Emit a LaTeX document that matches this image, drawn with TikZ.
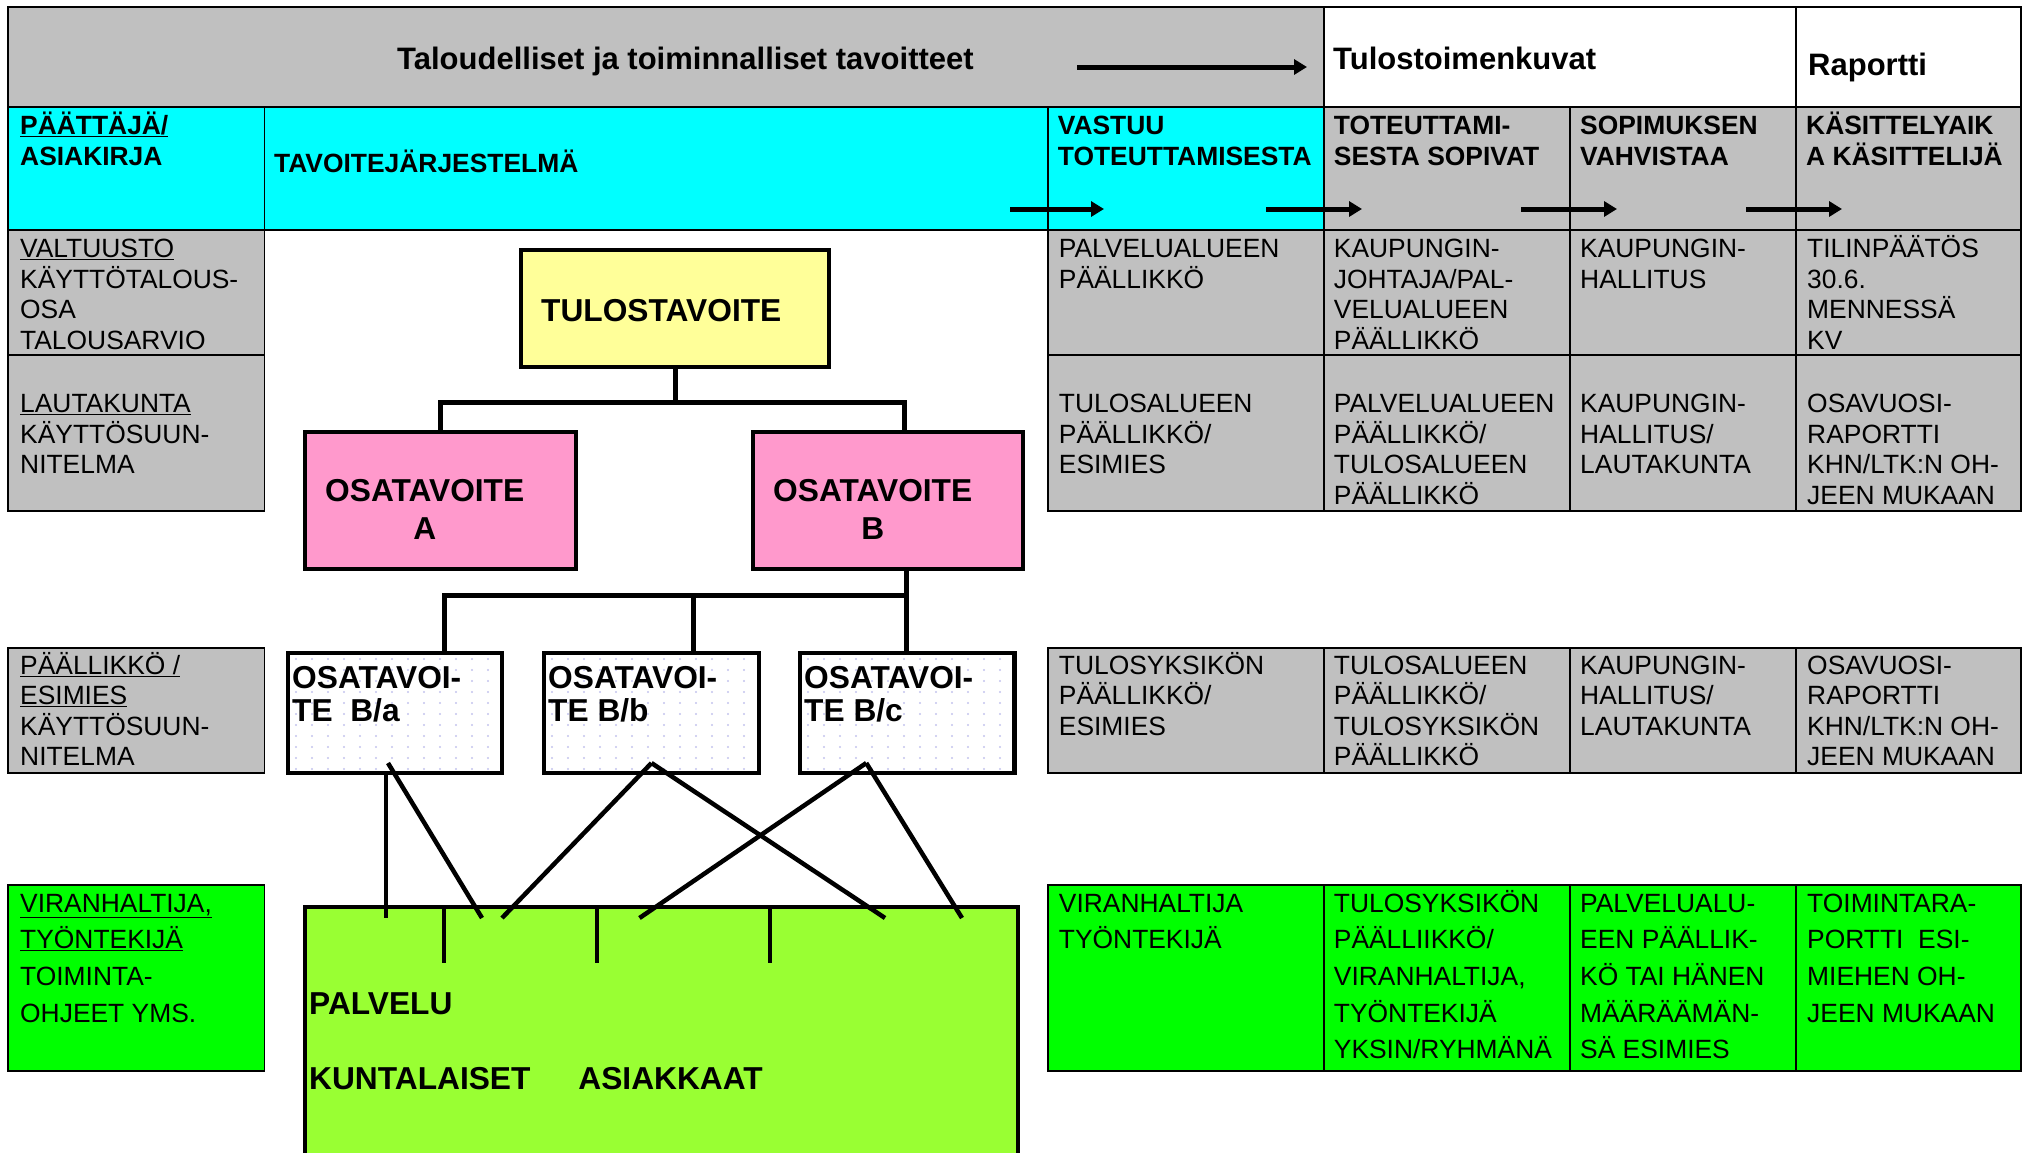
\documentclass[tikz,border=0pt]{standalone}
\usepackage{fontspec}
\setmainfont{Liberation Sans}
\usetikzlibrary{arrows.meta, positioning, calc}

\definecolor{cellgray}{HTML}{C0C0C0}
\definecolor{headcyan}{HTML}{00FFFF}
\definecolor{rowgreen}{HTML}{00FF00}
\definecolor{goalyellow}{HTML}{FFFF99}
\definecolor{goalpink}{HTML}{FF99CC}
\definecolor{servlime}{HTML}{99FF33}
\definecolor{dotblue}{HTML}{C4C4EE}

% first-line strut, so that every text sits at the same height
\newcommand{\cstrut}{\rule{0pt}{25pt}}

\tikzset{
    cell/.style 2 args={draw, line width=1.8pt, anchor=north west, inner sep=0,
        outer sep=0, minimum width=#1, minimum height=#2},
    goalbox/.style 2 args={draw, line width=4.5pt, anchor=north west, inner sep=0,
        outer sep=0, minimum width=#1, minimum height=#2},
    celltext/.style={anchor=north west, inner sep=0, align=left,
        font=\fontsize{26.4}{30.5}\selectfont},
    headtext/.style={celltext, font=\bfseries\fontsize{26.4}{30.5}\selectfont},
    greentext/.style={celltext, font=\fontsize{26.4}{36.6}\selectfont},
    goaltext/.style={celltext, font=\bfseries\fontsize{31.7}{38}\selectfont},
    subtext/.style={celltext, font=\bfseries\fontsize{31.7}{33}\selectfont},
    titletext/.style={anchor=base west, inner sep=0,
        font=\bfseries\fontsize{31}{36}\selectfont},
    flowarrow/.style={line width=5pt, -{Triangle[length=13pt,width=15pt]}},
    conn/.style={line width=5pt},
    link/.style={line width=4.5pt},
    dotfill/.style={path picture={
        \foreach \i in {0,...,13}
            \foreach \j in {0,...,10}
                \fill[dotblue] ($(path picture bounding box.north west)+(\i*16pt+8pt,-\j*11pt-6pt)$) circle (1.2pt);
    }}
}

\begin{document}
\begin{tikzpicture}[x=1pt, y=-1pt]

\path[use as bounding box, fill=white] (0,0) rectangle (2024,1152);

% header row
\node[cell={1315.7}{100}, fill=cellgray] (header) at (8,7) {};
\node[cell={472.3}{100}] (tulos_kuvat) at (1323.7,7) {};
\node[cell={225}{100}] (raportti) at (1796,7) {};
\node[titletext] (header_txt) at (397,69) {Taloudelliset ja toiminnalliset tavoitteet};
\node[titletext] (tulos_kuvat_txt) at (1333,69) {Tulostoimenkuvat};
\node[titletext] (raportti_txt) at (1808,75) {Raportti};

% cyan row
\node[cell={256.5}{123}, fill=headcyan] (paattaja) at (8,107) {};
\node[cell={783.2}{123}, fill=headcyan] (tavoite_jarj) at (264.5,107) {};
\node[cell={276}{123}, fill=headcyan] (vastuu) at (1047.7,107) {};
\node[cell={246.3}{123}, fill=cellgray] (sopivat) at (1323.7,107) {};
\node[cell={226}{123}, fill=cellgray] (vahvistaa) at (1570,107) {};
\node[cell={225}{123}, fill=cellgray] (kasittely) at (1796,107) {};

\node[headtext, below right=2.5pt and 12pt of paattaja.north west] (paattaja_txt) {\cstrut\underline{PÄÄTTÄJÄ/}\\ASIAKIRJA};
\node[headtext, below right=40pt and 9.5pt of tavoite_jarj.north west] (tavoite_jarj_txt) {\cstrut TAVOITEJÄRJESTELMÄ};
\node[headtext, below right=2.5pt and 10pt of vastuu.north west] (vastuu_txt) {\cstrut VASTUU\\TOTEUTTAMISESTA};
\node[headtext, below right=2.5pt and 10pt of sopivat.north west] (sopivat_txt) {\cstrut TOTEUTTAMI-\\SESTA SOPIVAT};
\node[headtext, below right=2.5pt and 10pt of vahvistaa.north west] (vahvistaa_txt) {\cstrut SOPIMUKSEN\\VAHVISTAA};
\node[headtext, below right=2.5pt and 10pt of kasittely.north west] (kasittely_txt) {\cstrut KÄSITTELYAIK\\A KÄSITTELIJÄ};

% row 1
\node[cell={256.5}{125}, fill=cellgray] (valtuusto) at (8,230) {};
\node[cell={276}{125}, fill=cellgray] (r1_vastuu) at (1047.7,230) {};
\node[cell={246.3}{125}, fill=cellgray] (r1_sopivat) at (1323.7,230) {};
\node[cell={226}{125}, fill=cellgray] (r1_vahvistaa) at (1570,230) {};
\node[cell={225}{125}, fill=cellgray] (r1_kasittely) at (1796,230) {};

\node[celltext, below right=2.5pt and 12pt of valtuusto.north west] (valtuusto_txt) {\cstrut\underline{VALTUUSTO}\\KÄYTTÖTALOUS-\\OSA\\TALOUSARVIO};
\node[celltext, below right=2.5pt and 11pt of r1_vastuu.north west] (r1_vastuu_txt) {\cstrut PALVELUALUEEN\\PÄÄLLIKKÖ};
\node[celltext, below right=2.5pt and 10pt of r1_sopivat.north west] (r1_sopivat_txt) {\cstrut KAUPUNGIN-\\JOHTAJA/PAL-\\VELUALUEEN\\PÄÄLLIKKÖ};
\node[celltext, below right=2.5pt and 10pt of r1_vahvistaa.north west] (r1_vahvistaa_txt) {\cstrut KAUPUNGIN-\\HALLITUS};
\node[celltext, below right=2.5pt and 11pt of r1_kasittely.north west] (r1_kasittely_txt) {\cstrut TILINPÄÄTÖS\\30.6.\\MENNESSÄ\\KV};

% row 2
\node[cell={256.5}{156}, fill=cellgray] (lautakunta) at (8,355) {};
\node[cell={276}{156}, fill=cellgray] (r2_vastuu) at (1047.7,355) {};
\node[cell={246.3}{156}, fill=cellgray] (r2_sopivat) at (1323.7,355) {};
\node[cell={226}{156}, fill=cellgray] (r2_vahvistaa) at (1570,355) {};
\node[cell={225}{156}, fill=cellgray] (r2_kasittely) at (1796,355) {};

\node[celltext, below right=32.5pt and 12pt of lautakunta.north west] (lautakunta_txt) {\cstrut\underline{LAUTAKUNTA}\\KÄYTTÖSUUN-\\NITELMA};
\node[celltext, below right=32.5pt and 11pt of r2_vastuu.north west] (r2_vastuu_txt) {\cstrut TULOSALUEEN\\PÄÄLLIKKÖ/\\ESIMIES};
\node[celltext, below right=32.5pt and 10pt of r2_sopivat.north west] (r2_sopivat_txt) {\cstrut PALVELUALUEEN\\PÄÄLLIKKÖ/\\TULOSALUEEN\\PÄÄLLIKKÖ};
\node[celltext, below right=32.5pt and 10pt of r2_vahvistaa.north west] (r2_vahvistaa_txt) {\cstrut KAUPUNGIN-\\HALLITUS/\\LAUTAKUNTA};
\node[celltext, below right=32.5pt and 11pt of r2_kasittely.north west] (r2_kasittely_txt) {\cstrut OSAVUOSI-\\RAPORTTI\\KHN/LTK:N OH-\\JEEN MUKAAN};

% row 3
\node[cell={256.5}{125}, fill=cellgray] (paallikko) at (8,648) {};
\node[cell={276}{125}, fill=cellgray] (r3_vastuu) at (1047.7,648) {};
\node[cell={246.3}{125}, fill=cellgray] (r3_sopivat) at (1323.7,648) {};
\node[cell={226}{125}, fill=cellgray] (r3_vahvistaa) at (1570,648) {};
\node[cell={225}{125}, fill=cellgray] (r3_kasittely) at (1796,648) {};

\node[celltext, below right=1pt and 12pt of paallikko.north west] (paallikko_txt) {\cstrut\underline{PÄÄLLIKKÖ /}\\\underline{ESIMIES}\\KÄYTTÖSUUN-\\NITELMA};
\node[celltext, below right=1pt and 11pt of r3_vastuu.north west] (r3_vastuu_txt) {\cstrut TULOSYKSIKÖN\\PÄÄLLIKKÖ/\\ESIMIES};
\node[celltext, below right=1pt and 10pt of r3_sopivat.north west] (r3_sopivat_txt) {\cstrut TULOSALUEEN\\PÄÄLLIKKÖ/\\TULOSYKSIKÖN\\PÄÄLLIKKÖ};
\node[celltext, below right=1pt and 10pt of r3_vahvistaa.north west] (r3_vahvistaa_txt) {\cstrut KAUPUNGIN-\\HALLITUS/\\LAUTAKUNTA};
\node[celltext, below right=1pt and 11pt of r3_kasittely.north west] (r3_kasittely_txt) {\cstrut OSAVUOSI-\\RAPORTTI\\KHN/LTK:N OH-\\JEEN MUKAAN};

% row 4
\node[cell={256.5}{186}, fill=rowgreen] (viranhaltija) at (8,885) {};
\node[cell={276}{186}, fill=rowgreen] (r4_vastuu) at (1047.7,885) {};
\node[cell={246.3}{186}, fill=rowgreen] (r4_sopivat) at (1323.7,885) {};
\node[cell={226}{186}, fill=rowgreen] (r4_vahvistaa) at (1570,885) {};
\node[cell={225}{186}, fill=rowgreen] (r4_kasittely) at (1796,885) {};

\node[greentext, below right=2pt and 12pt of viranhaltija.north west] (viranhaltija_txt) {\cstrut\underline{VIRANHALTIJA,}\\\underline{TYÖNTEKIJÄ}\\TOIMINTA-\\OHJEET YMS.};
\node[greentext, below right=2pt and 11pt of r4_vastuu.north west] (r4_vastuu_txt) {\cstrut VIRANHALTIJA\\TYÖNTEKIJÄ};
\node[greentext, below right=2pt and 10pt of r4_sopivat.north west] (r4_sopivat_txt) {\cstrut TULOSYKSIKÖN\\PÄÄLLIIKKÖ/\\VIRANHALTIJA,\\TYÖNTEKIJÄ\\YKSIN/RYHMÄNÄ};
\node[greentext, below right=2pt and 10pt of r4_vahvistaa.north west] (r4_vahvistaa_txt) {\cstrut PALVELUALU-\\EEN PÄÄLLIK-\\KÖ TAI HÄNEN\\MÄÄRÄÄMÄN-\\SÄ ESIMIES};
\node[greentext, below right=2pt and 11pt of r4_kasittely.north west] (r4_kasittely_txt) {\cstrut TOIMINTARA-\\PORTTI\ \ ESI-\\MIEHEN OH-\\JEEN MUKAAN};

% flow arrows
\coordinate (head_s) at (1077,67);
\coordinate (head_e) at (1307,67);
\draw[flowarrow] (head_s) -- (head_e);
\foreach \xa/\xb [count=\n] in {1010/1104, 1266/1362, 1521/1617, 1746/1842}{
    \coordinate (arrS\n) at (\xa,209);
    \coordinate (arrE\n) at (\xb,209);
    \draw[flowarrow] (arrS\n) -- (arrE\n);
}

% goal tree
\node[goalbox={308}{117}, fill=goalyellow] (tulos) at (521,250) {};
\node[goaltext, below right=46.4pt and 20pt of tulos.north west] (tulos_txt) {\cstrut TULOSTAVOITE};

\node[goalbox={271}{137}, fill=goalpink] (osaA) at (305,432) {};
\node[goaltext, align=center, below right=44.4pt and 20pt of osaA.north west] (osaA_txt) {\cstrut OSATAVOITE\\A};

\node[goalbox={270}{137}, fill=goalpink] (osaB) at (753,432) {};
\node[goaltext, align=center, below right=44.4pt and 20pt of osaB.north west] (osaB_txt) {\cstrut OSATAVOITE\\B};

\node[goalbox={214}{120}, fill=white, dotfill] (subA) at (288,653) {};
\node[subtext, below right=10.4pt and 4pt of subA.north west] (subA_txt) {\cstrut OSATAVOI-\\TE\ \ B/a};

\node[goalbox={215}{120}, fill=white, dotfill] (subB) at (544,653) {};
\node[subtext, below right=10.4pt and 4pt of subB.north west] (subB_txt) {\cstrut OSATAVOI-\\TE B/b};

\node[goalbox={214.5}{120}, fill=white, dotfill] (subC) at (800,653) {};
\node[subtext, below right=10.4pt and 4pt of subC.north west] (subC_txt) {\cstrut OSATAVOI-\\TE B/c};

\node[goalbox={713}{263}, fill=servlime] (palvelu) at (305,907) {};
\node[goaltext, font=\bfseries\fontsize{31.7}{75}\selectfont, below right=82.4pt and 4pt of palvelu.north west] (palvelu_txt) {\cstrut PALVELU\\KUNTALAISET\hspace{48pt}ASIAKKAAT};

% tree connectors
\coordinate (split_top) at (675,402);
\coordinate (split_low) at (906,595);
\draw[conn] (tulos.south) -- (split_top);
\draw[conn] (osaA.north) |- (split_top) -| ([xshift=16pt]osaB.north);
\draw[conn] ([xshift=18pt]osaB.south) -- (split_low);
\draw[conn] ([xshift=49pt]subA.north) |- (split_low) -- (subC.north -| split_low);
\draw[conn] ([xshift=42pt]subB.north) -- ++(0,-58);

% links down to the service box
\coordinate (inA) at (386,918);
\coordinate (inB) at (482,918);
\coordinate (inC) at (502,918);
\coordinate (inD) at (639.5,918);
\coordinate (inE) at (885,918);
\coordinate (inF) at (962,918);
\draw[link] (subA.south -| inA) -- (inA);
\draw[link] ([xshift=-7pt,yshift=10pt]subA.south) -- (inB);
\draw[link] ([yshift=10pt]subB.south) -- (inC);
\draw[link] ([yshift=10pt]subB.south) -- (inE);
\draw[link] ([xshift=-41pt,yshift=10pt]subC.south) -- (inD);
\draw[link] ([xshift=-41pt,yshift=10pt]subC.south) -- (inF);
\foreach \t in {139pt,292pt,465pt}
    \draw[link] ([xshift=\t]palvelu.north west) -- ++(0,56);

\end{tikzpicture}
\end{document}
